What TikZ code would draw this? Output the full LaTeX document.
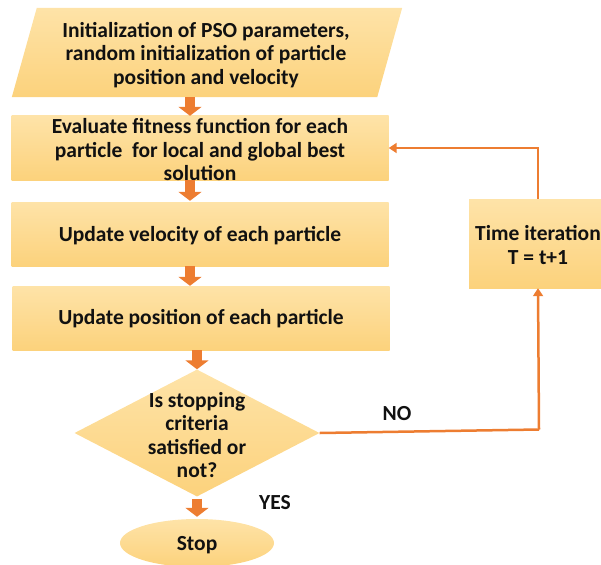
\documentclass[tikz,border=0pt]{standalone}
\usepackage{fontspec}
\setmainfont{Carlito}
\usetikzlibrary{shapes.geometric,arrows.meta,calc}
\definecolor{fillTop}{HTML}{FEE3A8}
\definecolor{fillBot}{HTML}{FCD27C}
\definecolor{orng}{HTML}{ED7D31}
\definecolor{ink}{HTML}{111111}
\tikzset{
  shp/.style={draw=none, top color=fillTop, bottom color=fillBot, inner sep=0pt},
  boxshape/.style={shp, rectangle},
  txt/.style={text=ink, align=center, inner sep=0pt, font=\fontsize{21.5}{23.5}\selectfont\bfseries},
  blk/.style={draw=orng, line width=10pt, -{Triangle[width=23pt,length=9pt]}},
  thin/.style={draw=orng, line width=2.5pt, -{Triangle[width=10pt,length=8pt]}},
  plain/.style={draw=orng, line width=2.5pt},
}
\begin{document}
\begin{tikzpicture}[x=1pt,y=-1pt]
\useasboundingbox (0,0) rectangle (601,564);
% parallelogram frame node (anchors) and its shape
\node[rectangle, inner sep=0pt, minimum width=365pt, minimum height=89pt] (init) at (207,52.5) {};
\path[shp] ($(init.north west)+(12.5,0)$) -- ($(init.north east)+(12.5,0)$)
   -- ($(init.south east)+(-12.5,0)$) -- ($(init.south west)+(-12.5,0)$) -- cycle;
\node[txt] (initT) at (206,55) {Initialization of PSO parameters,\\random initialization of particle\\position and velocity};
\node[boxshape, minimum width=377pt, minimum height=64pt] (eval) at (200,148) {};
\node[txt] (evalT) at (200,150) {Evaluate fitness function for each\\particle\ \ for local and global best\\solution};
\node[boxshape, minimum width=377pt, minimum height=64pt] (vel) at (200,234) {};
\node[txt] (velT) at (200,236) {Update velocity of each particle};
\node[boxshape, minimum width=377pt, minimum height=64pt] (pos) at (201,318) {};
\node[txt] (posT) at (201,319) {Update position of each particle};
\node[shp, diamond, minimum width=245pt, minimum height=127pt] (dec) at (197,433) {};
\node[txt] (decT) at (197,435) {Is stopping\\criteria\\satisfied or\\not?};
\node[shp, ellipse, minimum width=154pt, minimum height=48pt] (stop) at (197,543) {};
\node[txt] (stopT) at (197,545) {Stop};
\node[boxshape, minimum width=138pt, minimum height=89pt] (time) at (538,243.5) {};
\node[txt] (timeT) at (538,245) {Time iteration\\T = t+1};
% labels
\node[txt] (no) at (397,414) {NO};
\node[txt] (yes) at (275,503) {YES};
% block arrows
\coordinate (a1) at (190,0);
\coordinate (a4) at (197,0);
\draw[blk] (a1 |- init.south) -- (a1 |- eval.north);
\draw[blk] (a1 |- eval.south) -- ($(a1 |- vel.north)+(0,-1)$);
\draw[blk] (a1 |- vel.south) -- (a1 |- pos.north);
\draw[blk] (a4 |- pos.south) -- (a4 |- dec.north);
\draw[blk] ($(a4 |- dec.south)+(0,2)$) -- ($(a4 |- stop.north)+(0,-2)$);
% loop
\coordinate (nc) at (539,429.5);
\draw[plain] (dec.east) -- (nc);
\draw[thin] (nc) -- (time.south);
\draw[thin] (time.north) |- (eval.east);
\end{tikzpicture}
\end{document}
